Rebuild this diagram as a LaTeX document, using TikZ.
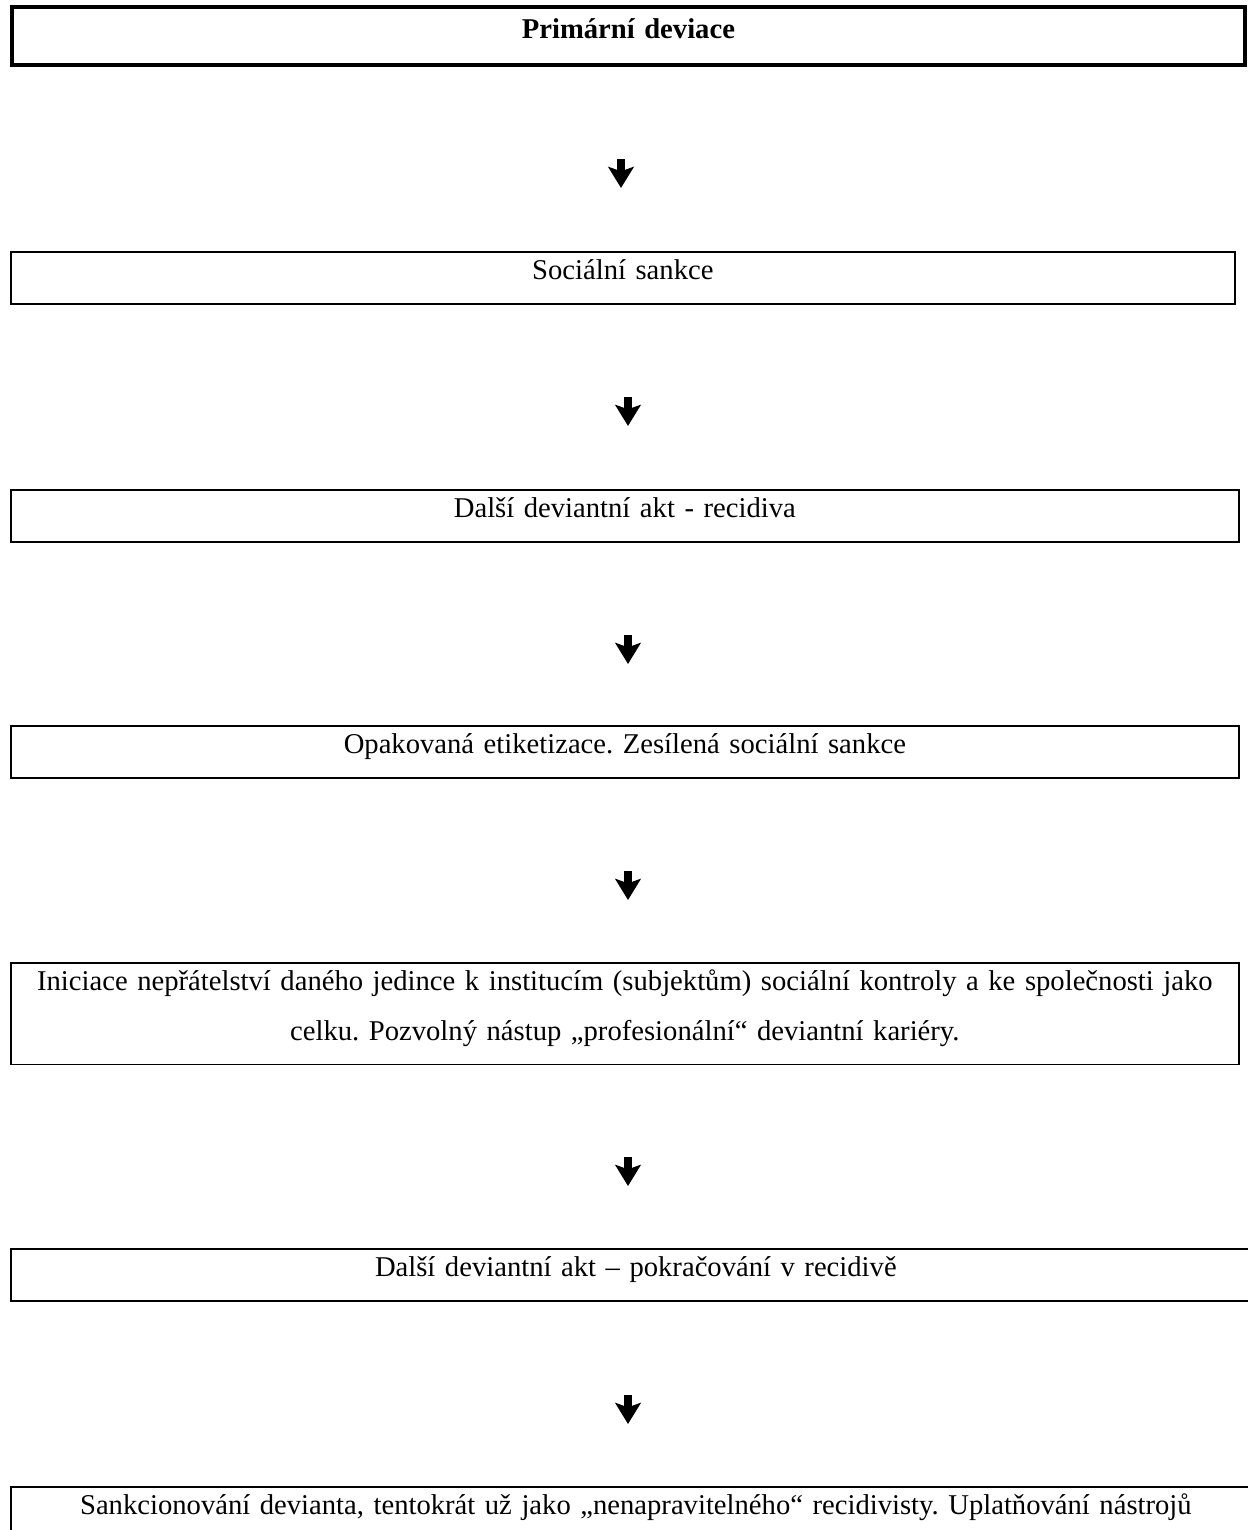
\documentclass[tikz,border=0pt]{standalone}
\usepackage{fontspec}
\setmainfont{Liberation Serif}
\usetikzlibrary{arrows.meta,positioning}
\tikzset{
    stage/.style = {
        draw,
        line width=1.1pt,
        inner xsep=0pt,
        inner ysep=0pt,
        anchor=north west,
        align=center,
        text height=15.9pt,
        text depth=13.9pt,
        },
    first stage/.style = {
        stage,
        line width=2.3pt,
        font=\bfseries,
        text height=18.1pt,
        text depth=14.7pt,
        },
    two lines/.style = {
        text depth=41.9pt,
        },
    flow arrow/.style = {
        line width=4pt,
        -{Stealth[length=12pt,width=14.5pt,inset=2.5pt]},
        },
}

\begin{document}
\frenchspacing
\fontsize{16.3pt}{28.35pt}\selectfont
\begin{tikzpicture}[x=0.02cm,y=-0.02cm]
    \useasboundingbox (0,0) rectangle (1247,1530);

    \node[first stage, text width=24.66cm] (primary) at (10,5) {Primární deviace};
    \node[stage, text width=24.48cm] (sanction) at (10,251) {Sociální sankce};
    \node[stage, text width=24.56cm] (relapse) at (10,489) {Další deviantní akt - recidiva};
    \node[stage, text width=24.56cm] (labelling) at (10,725) {Opakovaná etiketizace. Zesílená sociální sankce};
    \node[stage, two lines, text width=24.56cm] (hostility) at (10,962)
        {Iniciace nepřátelství daného jedince k institucím (subjektům) sociální kontroly a ke společnosti jako\\
         celku. Pozvolný nástup „profesionální“ deviantní kariéry.};
    \node[stage, text width=25cm] (career) at (10,1248) {Další deviantní akt – pokračování v recidivě};
    \node[stage, two lines, text width=25cm] (incorrigible) at (10,1486)
        {Sankcionování devianta, tentokrát už jako „nenapravitelného“ recidivisty. Uplatňování nástrojů\hspace*{12\pgflinewidth}};

    \coordinate (a1 top) at (621,159);
    \coordinate (a1 tip) at (621,188);
    \coordinate (a2 top) at (628,397);
    \coordinate (a2 tip) at (628,426);
    \coordinate (a3 top) at (628,635);
    \coordinate (a3 tip) at (628,664);
    \coordinate (a4 top) at (628,871);
    \coordinate (a4 tip) at (628,900);
    \coordinate (a5 top) at (628,1157);
    \coordinate (a5 tip) at (628,1186);
    \coordinate (a6 top) at (628,1395);
    \coordinate (a6 tip) at (628,1424);

    \draw[flow arrow] (a1 top) -- (a1 tip);
    \draw[flow arrow] (a2 top) -- (a2 tip);
    \draw[flow arrow] (a3 top) -- (a3 tip);
    \draw[flow arrow] (a4 top) -- (a4 tip);
    \draw[flow arrow] (a5 top) -- (a5 tip);
    \draw[flow arrow] (a6 top) -- (a6 tip);
\end{tikzpicture}
\end{document}
